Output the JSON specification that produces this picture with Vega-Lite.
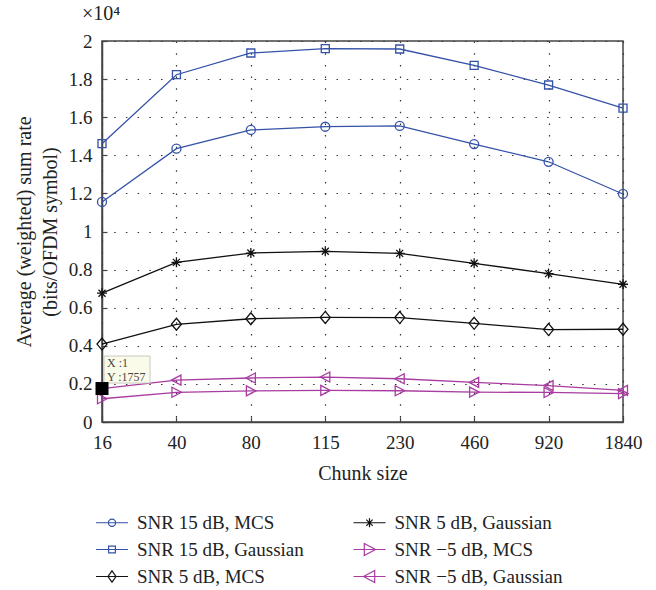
{
  "$schema": "https://vega.github.io/schema/vega-lite/v6.json",
  "width": 521,
  "height": 381,
  "autosize": {"type": "none"},
  "padding": {"left": 102, "top": 41, "right": 33, "bottom": 168},
  "background": "white",
  "title": {"text": "×10⁴", "anchor": "start", "frame": "group", "dx": -20, "offset": -8, "baseline": "alphabetic", "fontSize": 20, "font": "Liberation Serif", "fontWeight": "normal", "color": "#222"},
  "config": {
    "view": {"stroke": "#444", "strokeWidth": 1.5},
    "font": "Liberation Serif",
    "axis": {
      "labelFont": "Liberation Serif", "labelFontSize": 19, "labelColor": "#222",
      "titleFont": "Liberation Serif", "titleFontSize": 20, "titleColor": "#222", "titleFontWeight": "normal",
      "domainColor": "#444", "domainWidth": 1.5,
      "tickColor": "#444", "tickSize": -5, "tickWidth": 1.2,
      "grid": true, "gridColor": "#333", "gridDash": [1.5, 10.2], "gridWidth": 1.2, "gridOpacity": 1
    },
    "legend": {"labelFont": "Liberation Serif", "labelFontSize": 19, "labelColor": "#222", "labelLimit": 400}
  },
  "datasets": {
    "main": [
      {"chunk": 16, "series": "SNR 15 dB, MCS", "value": 1.155},
      {"chunk": 40, "series": "SNR 15 dB, MCS", "value": 1.435},
      {"chunk": 80, "series": "SNR 15 dB, MCS", "value": 1.533},
      {"chunk": 115, "series": "SNR 15 dB, MCS", "value": 1.550},
      {"chunk": 230, "series": "SNR 15 dB, MCS", "value": 1.554},
      {"chunk": 460, "series": "SNR 15 dB, MCS", "value": 1.459},
      {"chunk": 920, "series": "SNR 15 dB, MCS", "value": 1.366},
      {"chunk": 1840, "series": "SNR 15 dB, MCS", "value": 1.197},
      {"chunk": 16, "series": "SNR 15 dB, Gaussian", "value": 1.461},
      {"chunk": 40, "series": "SNR 15 dB, Gaussian", "value": 1.823},
      {"chunk": 80, "series": "SNR 15 dB, Gaussian", "value": 1.937},
      {"chunk": 115, "series": "SNR 15 dB, Gaussian", "value": 1.960},
      {"chunk": 230, "series": "SNR 15 dB, Gaussian", "value": 1.958},
      {"chunk": 460, "series": "SNR 15 dB, Gaussian", "value": 1.872},
      {"chunk": 920, "series": "SNR 15 dB, Gaussian", "value": 1.769},
      {"chunk": 1840, "series": "SNR 15 dB, Gaussian", "value": 1.648},
      {"chunk": 16, "series": "SNR 5 dB, MCS", "value": 0.409},
      {"chunk": 40, "series": "SNR 5 dB, MCS", "value": 0.513},
      {"chunk": 80, "series": "SNR 5 dB, MCS", "value": 0.542},
      {"chunk": 115, "series": "SNR 5 dB, MCS", "value": 0.549},
      {"chunk": 230, "series": "SNR 5 dB, MCS", "value": 0.548},
      {"chunk": 460, "series": "SNR 5 dB, MCS", "value": 0.518},
      {"chunk": 920, "series": "SNR 5 dB, MCS", "value": 0.485},
      {"chunk": 1840, "series": "SNR 5 dB, MCS", "value": 0.487},
      {"chunk": 16, "series": "SNR 5 dB, Gaussian", "value": 0.676},
      {"chunk": 40, "series": "SNR 5 dB, Gaussian", "value": 0.838},
      {"chunk": 80, "series": "SNR 5 dB, Gaussian", "value": 0.887},
      {"chunk": 115, "series": "SNR 5 dB, Gaussian", "value": 0.896},
      {"chunk": 230, "series": "SNR 5 dB, Gaussian", "value": 0.885},
      {"chunk": 460, "series": "SNR 5 dB, Gaussian", "value": 0.833},
      {"chunk": 920, "series": "SNR 5 dB, Gaussian", "value": 0.779},
      {"chunk": 1840, "series": "SNR 5 dB, Gaussian", "value": 0.723},
      {"chunk": 16, "series": "SNR −5 dB, MCS", "value": 0.122},
      {"chunk": 40, "series": "SNR −5 dB, MCS", "value": 0.156},
      {"chunk": 80, "series": "SNR −5 dB, MCS", "value": 0.163},
      {"chunk": 115, "series": "SNR −5 dB, MCS", "value": 0.166},
      {"chunk": 230, "series": "SNR −5 dB, MCS", "value": 0.164},
      {"chunk": 460, "series": "SNR −5 dB, MCS", "value": 0.157},
      {"chunk": 920, "series": "SNR −5 dB, MCS", "value": 0.155},
      {"chunk": 1840, "series": "SNR −5 dB, MCS", "value": 0.149},
      {"chunk": 16, "series": "SNR −5 dB, Gaussian", "value": 0.1757},
      {"chunk": 40, "series": "SNR −5 dB, Gaussian", "value": 0.220},
      {"chunk": 80, "series": "SNR −5 dB, Gaussian", "value": 0.231},
      {"chunk": 115, "series": "SNR −5 dB, Gaussian", "value": 0.236},
      {"chunk": 230, "series": "SNR −5 dB, Gaussian", "value": 0.227},
      {"chunk": 460, "series": "SNR −5 dB, Gaussian", "value": 0.208},
      {"chunk": 920, "series": "SNR −5 dB, Gaussian", "value": 0.191},
      {"chunk": 1840, "series": "SNR −5 dB, Gaussian", "value": 0.166}
    ],
    "tip": [
      {"chunk": 16, "value": 0.1757, "label": ["X :1", "Y :1757"]}
    ]
  },
  "encoding": {
    "x": {
      "field": "chunk", "type": "ordinal",
      "scale": {"type": "point", "padding": 0},
      "axis": {"title": "Chunk size", "labelAngle": 0, "labelPadding": 16, "titlePadding": 11}
    },
    "y": {
      "field": "value", "type": "quantitative",
      "scale": {"domain": [0, 2], "nice": false},
      "axis": {
        "title": ["Average (weighted) sum rate", "(bits/OFDM symbol)"],
        "values": [0, 0.2, 0.4, 0.6, 0.8, 1, 1.2, 1.4, 1.6, 1.8, 2],
        "format": ".1~f", "labelPadding": 15, "titlePadding": 8, "titleLineHeight": 26
      }
    }
  },
  "layer": [
    {
      "data": {"name": "main"},
      "mark": {"type": "line", "strokeWidth": 1.3},
      "encoding": {
        "color": {
          "field": "series", "type": "nominal",
          "scale": {
            "domain": ["SNR 15 dB, MCS", "SNR 15 dB, Gaussian", "SNR 5 dB, MCS", "SNR 5 dB, Gaussian", "SNR −5 dB, MCS", "SNR −5 dB, Gaussian"],
            "range": ["#3452a8", "#3452a8", "#111111", "#111111", "#a83ca0", "#a83ca0"]
          },
          "legend": {
            "title": null, "orient": "none", "legendX": 0.5, "legendY": 472,
            "columns": 2, "columnPadding": 46.5, "rowPadding": 7, "padding": 0,
            "symbolSize": 64, "symbolStrokeWidth": 1.2, "labelOffset": 15.5,
            "encode": {
              "symbols": {
                "update": {
                  "fill": {"value": "transparent"},
                  "shape": {"signal": "datum.value === 'SNR 15 dB, MCS' ? 'M-4,0H4M0.9,0A0.9,0.9 0 1,1 -0.9,0A0.9,0.9 0 1,1 0.9,0Z' : datum.value === 'SNR 15 dB, Gaussian' ? 'M-4,0H4M-0.85,-0.85H0.85V0.85H-0.85Z' : datum.value === 'SNR 5 dB, MCS' ? 'M-4,0H4M0,-1.4L1,0L0,1.4L-1,0Z' : datum.value === 'SNR 5 dB, Gaussian' ? 'M-4,0H4M0,-1.1V1.1M-0.8,-0.8L0.8,0.8M-0.8,0.8L0.8,-0.8' : datum.value === 'SNR −5 dB, MCS' ? 'M-4,0H4M-1.3,-1.5L1.5,0L-1.3,1.5Z' : 'M-4,0H4M1.3,-1.5L-1.5,0L1.3,1.5Z'"}
                }
              }
            }
          }
        }
      }
    },
    {
      "data": {"name": "main"},
      "mark": {"type": "point", "filled": false, "strokeWidth": 1.3, "size": 100, "opacity": 1},
      "encoding": {
        "color": {"field": "series", "type": "nominal", "legend": null},
        "shape": {
          "field": "series", "type": "nominal", "legend": null,
          "scale": {
            "domain": ["SNR −5 dB, Gaussian", "SNR −5 dB, MCS", "SNR 5 dB, Gaussian", "SNR 5 dB, MCS", "SNR 15 dB, Gaussian", "SNR 15 dB, MCS"],
            "range": [
              "M0.9,-1L-1,0L0.9,1Z",
              "M-0.9,-1L1,0L-0.9,1Z",
              "M-1,0H1M0,-1V1M-0.7,-0.7L0.7,0.7M-0.7,0.7L0.7,-0.7",
              "M0,-1.2L1,0L0,1.2L-1,0Z",
              "M-0.8,-0.8H0.8V0.8H-0.8Z",
              "M0.9,0A0.9,0.9 0 1,1 -0.9,0A0.9,0.9 0 1,1 0.9,0Z"
            ]
          }
        }
      }
    },
    {
      "data": {"name": "tip"},
      "mark": {"type": "point", "filled": true, "fill": "#fbfbea", "stroke": "#c8c8c0", "strokeWidth": 1, "opacity": 1, "fillOpacity": 1, "size": 400, "shape": "M0.2,-3.25H4.8V-0.55H0.2Z"}
    },
    {
      "data": {"name": "tip"},
      "mark": {"type": "point", "filled": true, "color": "#000000", "opacity": 1, "size": 169, "shape": "square"}
    },
    {
      "data": {"name": "tip"},
      "mark": {"type": "text", "align": "left", "baseline": "alphabetic", "dx": 5, "dy": -22, "fontSize": 12, "lineHeight": 14, "font": "Liberation Serif", "color": "#444"},
      "encoding": {"text": {"field": "label"}}
    }
  ]
}
